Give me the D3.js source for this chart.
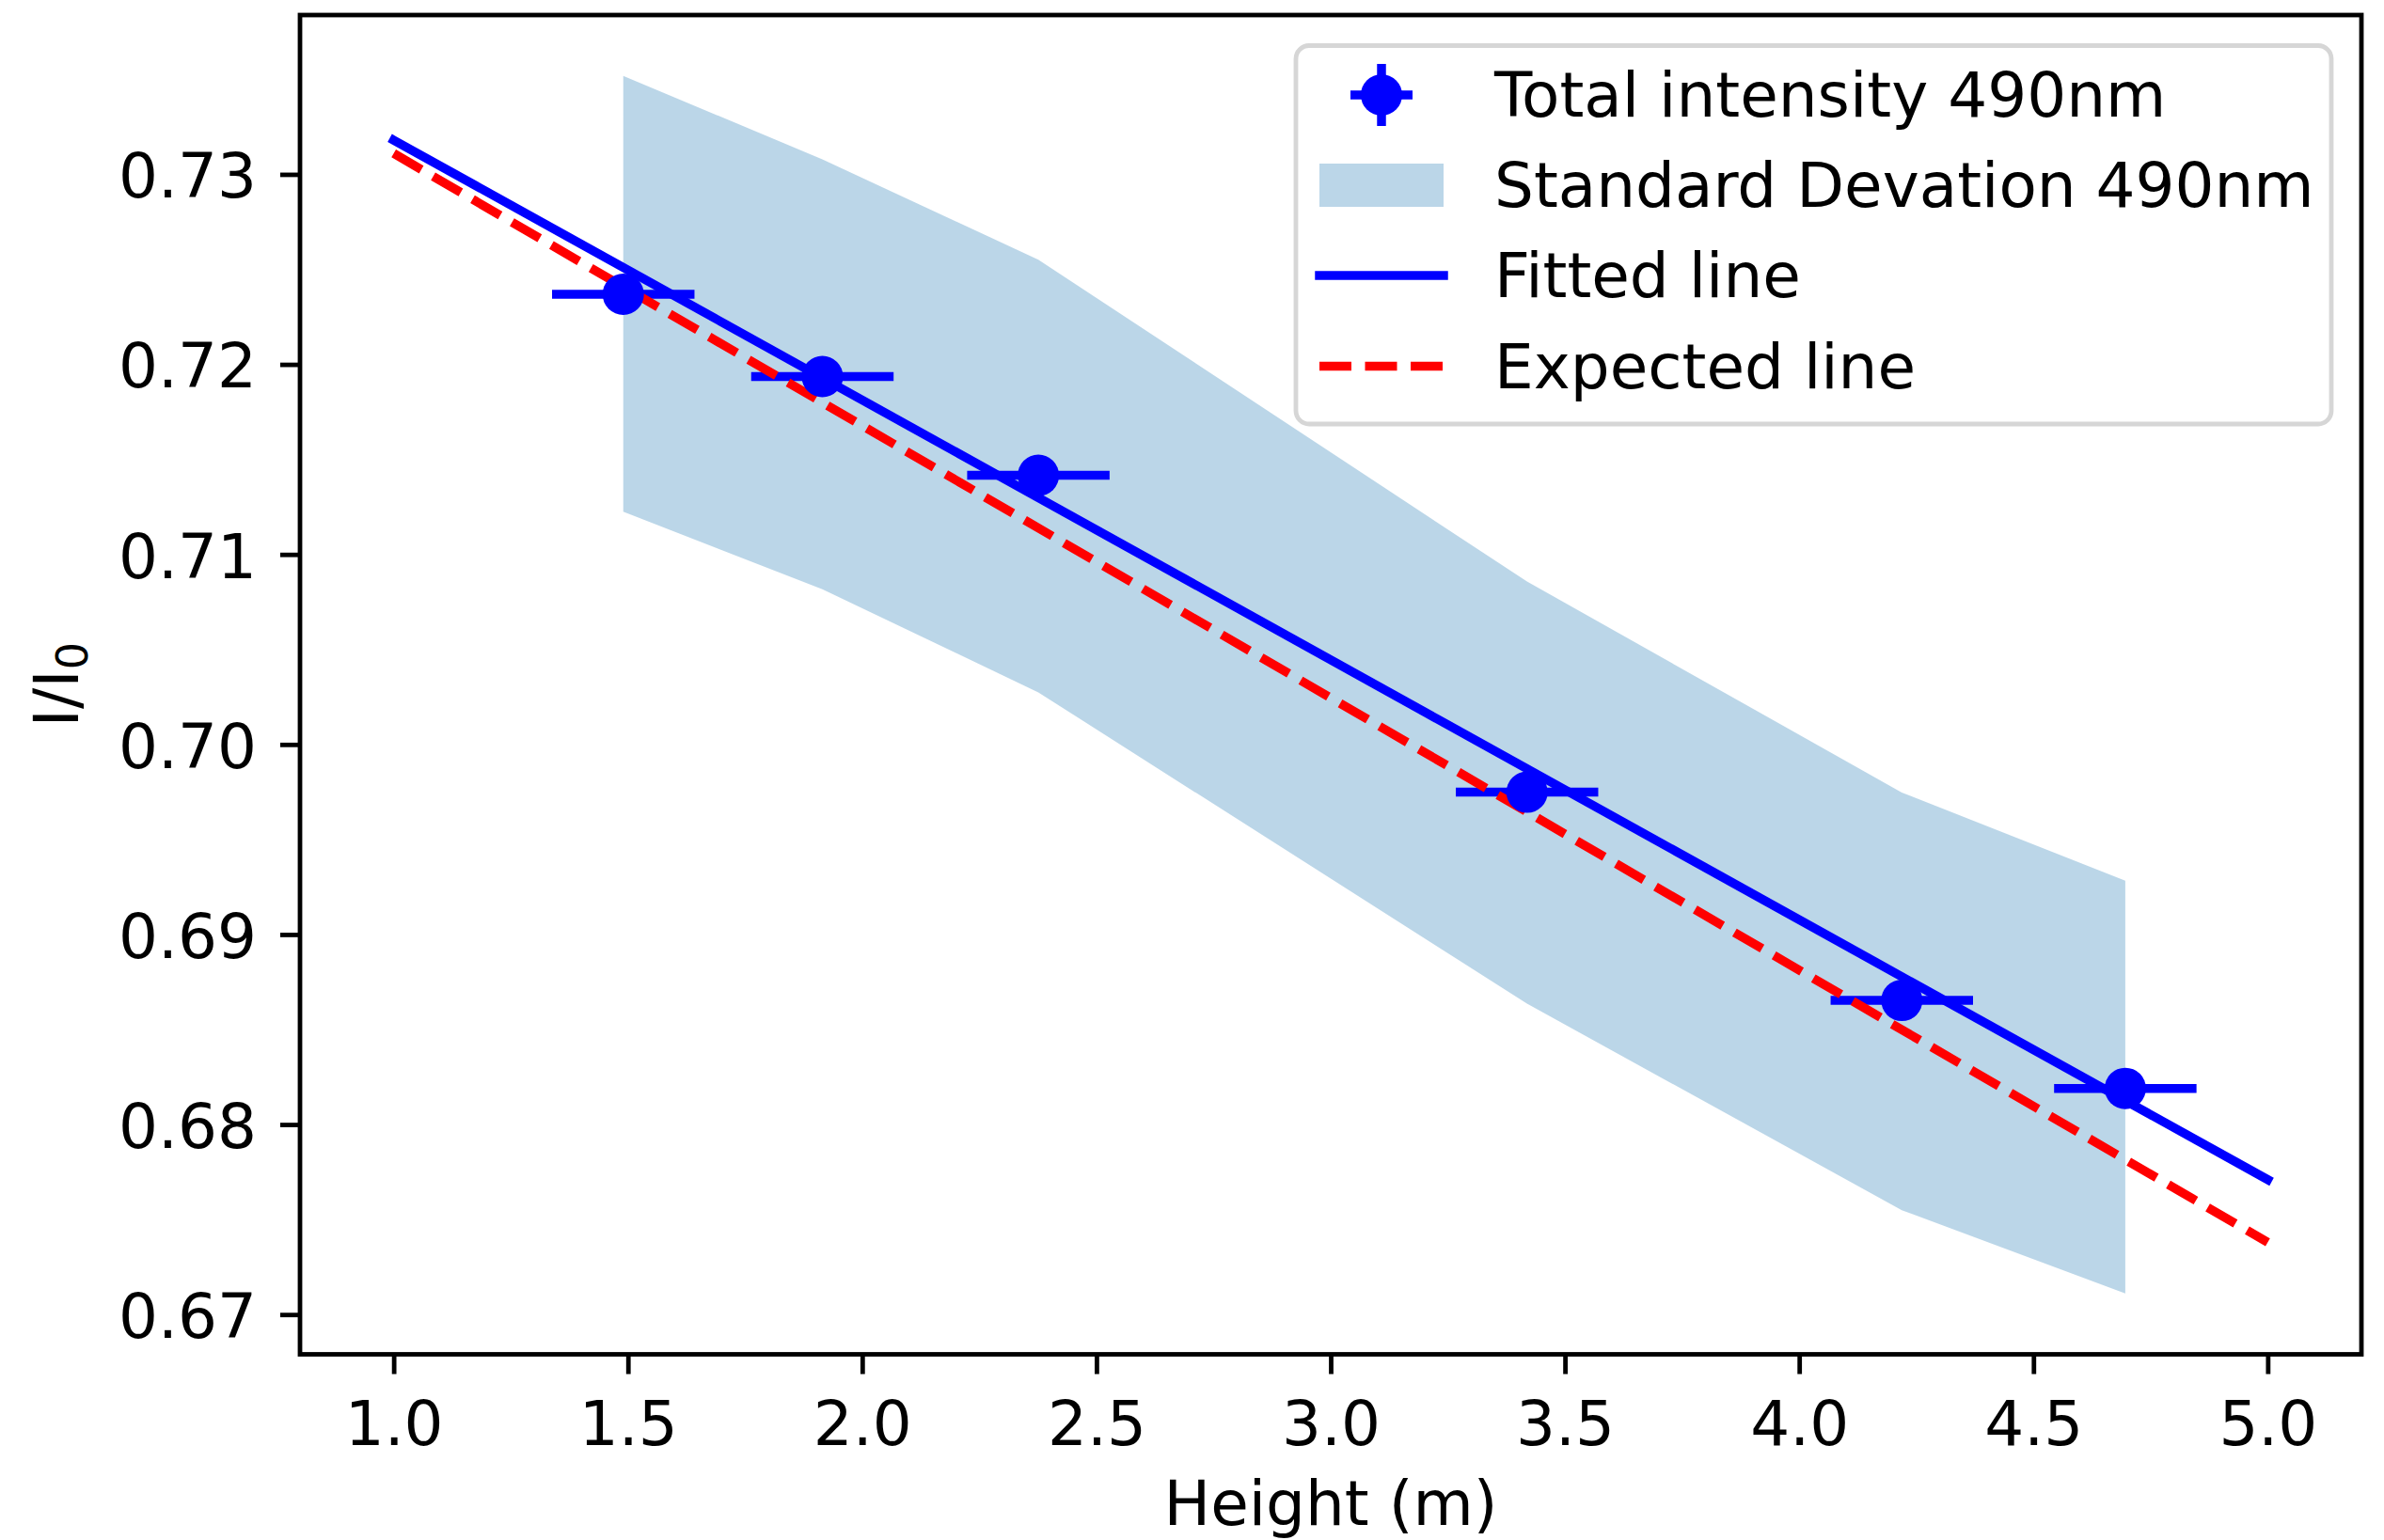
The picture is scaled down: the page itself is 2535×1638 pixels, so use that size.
<!DOCTYPE html>
<html>
<head>
<meta charset="utf-8">
<script src="https://cdn.jsdelivr.net/npm/d3@7"></script>
<style>
  html, body { margin: 0; padding: 0; background: #fff; }
  svg { display: block; font-family: "DejaVu Sans", sans-serif; }
</style>
</head>
<body>
<svg id="chart" width="2535" height="1638"></svg>
<script>
/* intensity vs height at 490nm: measurements, spread band, fitted and expected lines */
"use strict";

const heights = [1.490, 1.915, 2.376, 3.419, 4.219, 4.696];
const intensity = [0.72369, 0.71936, 0.71416, 0.69749, 0.68653, 0.68190];
const heightErr = [0.152, 0.152, 0.152, 0.152, 0.152, 0.152];
const intensityErr = [0.0006, 0.0006, 0.0006, 0.0006, 0.0006, 0.0006];

const sdUpper = [0.73518, 0.73079, 0.72551, 0.70857, 0.69747, 0.69283];
const sdLower = [0.71225, 0.70817, 0.70274, 0.68636, 0.67549, 0.67111];

const lineX = [1.0, 5.0];
const fittedY = [0.7318, 0.6771];
const expectedY = [0.7311, 0.6738];

const xTicks = [1.0, 1.5, 2.0, 2.5, 3.0, 3.5, 4.0, 4.5, 5.0];
const yTicks = [0.67, 0.68, 0.69, 0.70, 0.71, 0.72, 0.73];

const legendLabels = [
  "Total intensity 490nm",
  "Standard Devation 490nm",
  "Fitted line",
  "Expected line",
];

const BLUE = "#0000ff";
const RED = "#ff0000";
const BAND = "#1f77b4";
const LW = 9.5;
const DASH = "34,14.5";
const FONT = 66;

const svg = d3.select("#chart");
const box = { left: 319, right: 2511, top: 16, bottom: 1440.5 };

/* matplotlib style 5% margins around the data */
function padded(lo, hi) {
  const m = (hi - lo) * 0.05;
  return [lo - m, hi + m];
}
const xAll = [...lineX, ...heights.map((h, i) => h - heightErr[i]), ...heights.map((h, i) => h + heightErr[i])];
const yAll = [...sdUpper, ...sdLower, ...fittedY, ...expectedY,
  ...intensity.map((v, i) => v - intensityErr[i]), ...intensity.map((v, i) => v + intensityErr[i])];

const x = d3.scaleLinear(padded(d3.min(xAll), d3.max(xAll)), [box.left, box.right]);
const y = d3.scaleLinear(padded(d3.min(yAll), d3.max(yAll)), [box.bottom, box.top]);

const plot = svg.append("g");

/* standard deviation band */
const band = heights.map((h, i) => ({ x: h, lo: sdLower[i], hi: sdUpper[i] }));
plot.append("path")
  .datum(band)
  .attr("fill", BAND)
  .attr("fill-opacity", 0.3)
  .attr("d", d3.area().x((d) => x(d.x)).y0((d) => y(d.lo)).y1((d) => y(d.hi)));

/* error bars */
const pts = heights.map((h, i) => ({ x: h, y: intensity[i], ex: heightErr[i], ey: intensityErr[i] }));
plot.append("g")
  .selectAll("line")
  .data(pts)
  .join("line")
  .attr("x1", (d) => x(d.x - d.ex))
  .attr("x2", (d) => x(d.x + d.ex))
  .attr("y1", (d) => y(d.y))
  .attr("y2", (d) => y(d.y))
  .attr("stroke", BLUE)
  .attr("stroke-width", LW);
plot.append("g")
  .selectAll("line")
  .data(pts)
  .join("line")
  .attr("x1", (d) => x(d.x))
  .attr("x2", (d) => x(d.x))
  .attr("y1", (d) => y(d.y - d.ey))
  .attr("y2", (d) => y(d.y + d.ey))
  .attr("stroke", BLUE)
  .attr("stroke-width", LW);

/* fitted and expected lines */
const line = d3.line().x((d) => x(d[0])).y((d) => y(d[1]));
plot.append("path")
  .datum(lineX.map((v, i) => [v, fittedY[i]]))
  .attr("fill", "none")
  .attr("stroke", BLUE)
  .attr("stroke-width", LW)
  .attr("stroke-linecap", "square")
  .attr("d", line);
plot.append("path")
  .datum(lineX.map((v, i) => [v, expectedY[i]]))
  .attr("fill", "none")
  .attr("stroke", RED)
  .attr("stroke-width", LW)
  .attr("stroke-dasharray", DASH)
  .attr("d", line);

/* markers on top */
plot.append("g")
  .selectAll("circle")
  .data(pts)
  .join("circle")
  .attr("cx", (d) => x(d.x))
  .attr("cy", (d) => y(d.y))
  .attr("r", 22)
  .attr("fill", BLUE);

/* -- axes --------------------------------------------------------------- */

const xAxis = svg.append("g")
  .attr("transform", `translate(0,${box.bottom})`)
  .call(d3.axisBottom(x).tickValues(xTicks).tickFormat(d3.format(".1f")).tickSize(21).tickPadding(28.5));
const yAxis = svg.append("g")
  .attr("transform", `translate(${box.left},0)`)
  .call(d3.axisLeft(y).tickValues(yTicks).tickFormat(d3.format(".2f")).tickSize(21).tickPadding(25));

for (const ax of [xAxis, yAxis]) {
  ax.select(".domain").remove();
  ax.selectAll(".tick line").attr("stroke", "#000").attr("stroke-width", 4.8);
  ax.selectAll(".tick text")
    .attr("fill", "#000")
    .style("font-family", '"DejaVu Sans", sans-serif')
    .style("font-size", `${FONT}px`);
}
yAxis.selectAll(".tick text").attr("dy", "0.37em");

svg.append("rect")
  .attr("x", box.left)
  .attr("y", box.top)
  .attr("width", box.right - box.left)
  .attr("height", box.bottom - box.top)
  .attr("fill", "none")
  .attr("stroke", "#000")
  .attr("stroke-width", 4.8);

svg.append("text")
  .attr("x", (box.left + box.right) / 2)
  .attr("y", 1622)
  .attr("text-anchor", "middle")
  .style("font-size", `${FONT}px`)
  .text("Height (m)");

const ylab = svg.append("text")
  .attr("transform", `translate(83,${(box.top + box.bottom) / 2}) rotate(-90)`)
  .attr("text-anchor", "middle")
  .style("font-size", `${FONT}px`);
ylab.append("tspan").text("I/I");
ylab.append("tspan").attr("dy", 10).style("font-size", "46px").text("0");

/* -- legend ------------------------------------------------------------- */

const legend = svg.append("g");
legend.append("rect")
  .attr("x", 1378)
  .attr("y", 48.5)
  .attr("width", 1101)
  .attr("height", 402.5)
  .attr("rx", 14)
  .attr("fill", "#fff")
  .attr("fill-opacity", 0.8)
  .attr("stroke", "#d6d6d6")
  .attr("stroke-width", 4.8);

const rowBase = [124, 220, 316, 412.5];
const hx0 = 1403;
const hx1 = 1535;
const hcx = (hx0 + hx1) / 2;

legendLabels.forEach((label, i) => {
  const cy = rowBase[i] - 23;
  const g = legend.append("g");
  if (i === 0) {
    g.append("line").attr("x1", hcx - 33).attr("x2", hcx + 33).attr("y1", cy).attr("y2", cy)
      .attr("stroke", BLUE).attr("stroke-width", LW);
    g.append("line").attr("x1", hcx).attr("x2", hcx).attr("y1", cy - 33).attr("y2", cy + 33)
      .attr("stroke", BLUE).attr("stroke-width", LW);
    g.append("circle").attr("cx", hcx).attr("cy", cy).attr("r", 22).attr("fill", BLUE);
  } else if (i === 1) {
    g.append("rect").attr("x", hx0).attr("y", cy - 23).attr("width", hx1 - hx0).attr("height", 46)
      .attr("fill", BAND).attr("fill-opacity", 0.3);
  } else {
    g.append("line").attr("x1", hx0).attr("x2", hx1).attr("y1", cy).attr("y2", cy)
      .attr("stroke", i === 2 ? BLUE : RED)
      .attr("stroke-width", LW)
      .attr("stroke-dasharray", i === 3 ? DASH : null)
      .attr("stroke-linecap", i === 2 ? "square" : "butt");
  }
  g.append("text")
    .attr("x", 1589)
    .attr("y", rowBase[i])
    .style("font-size", `${FONT}px`)
    .text(label);
});
</script>
</body>
</html>
